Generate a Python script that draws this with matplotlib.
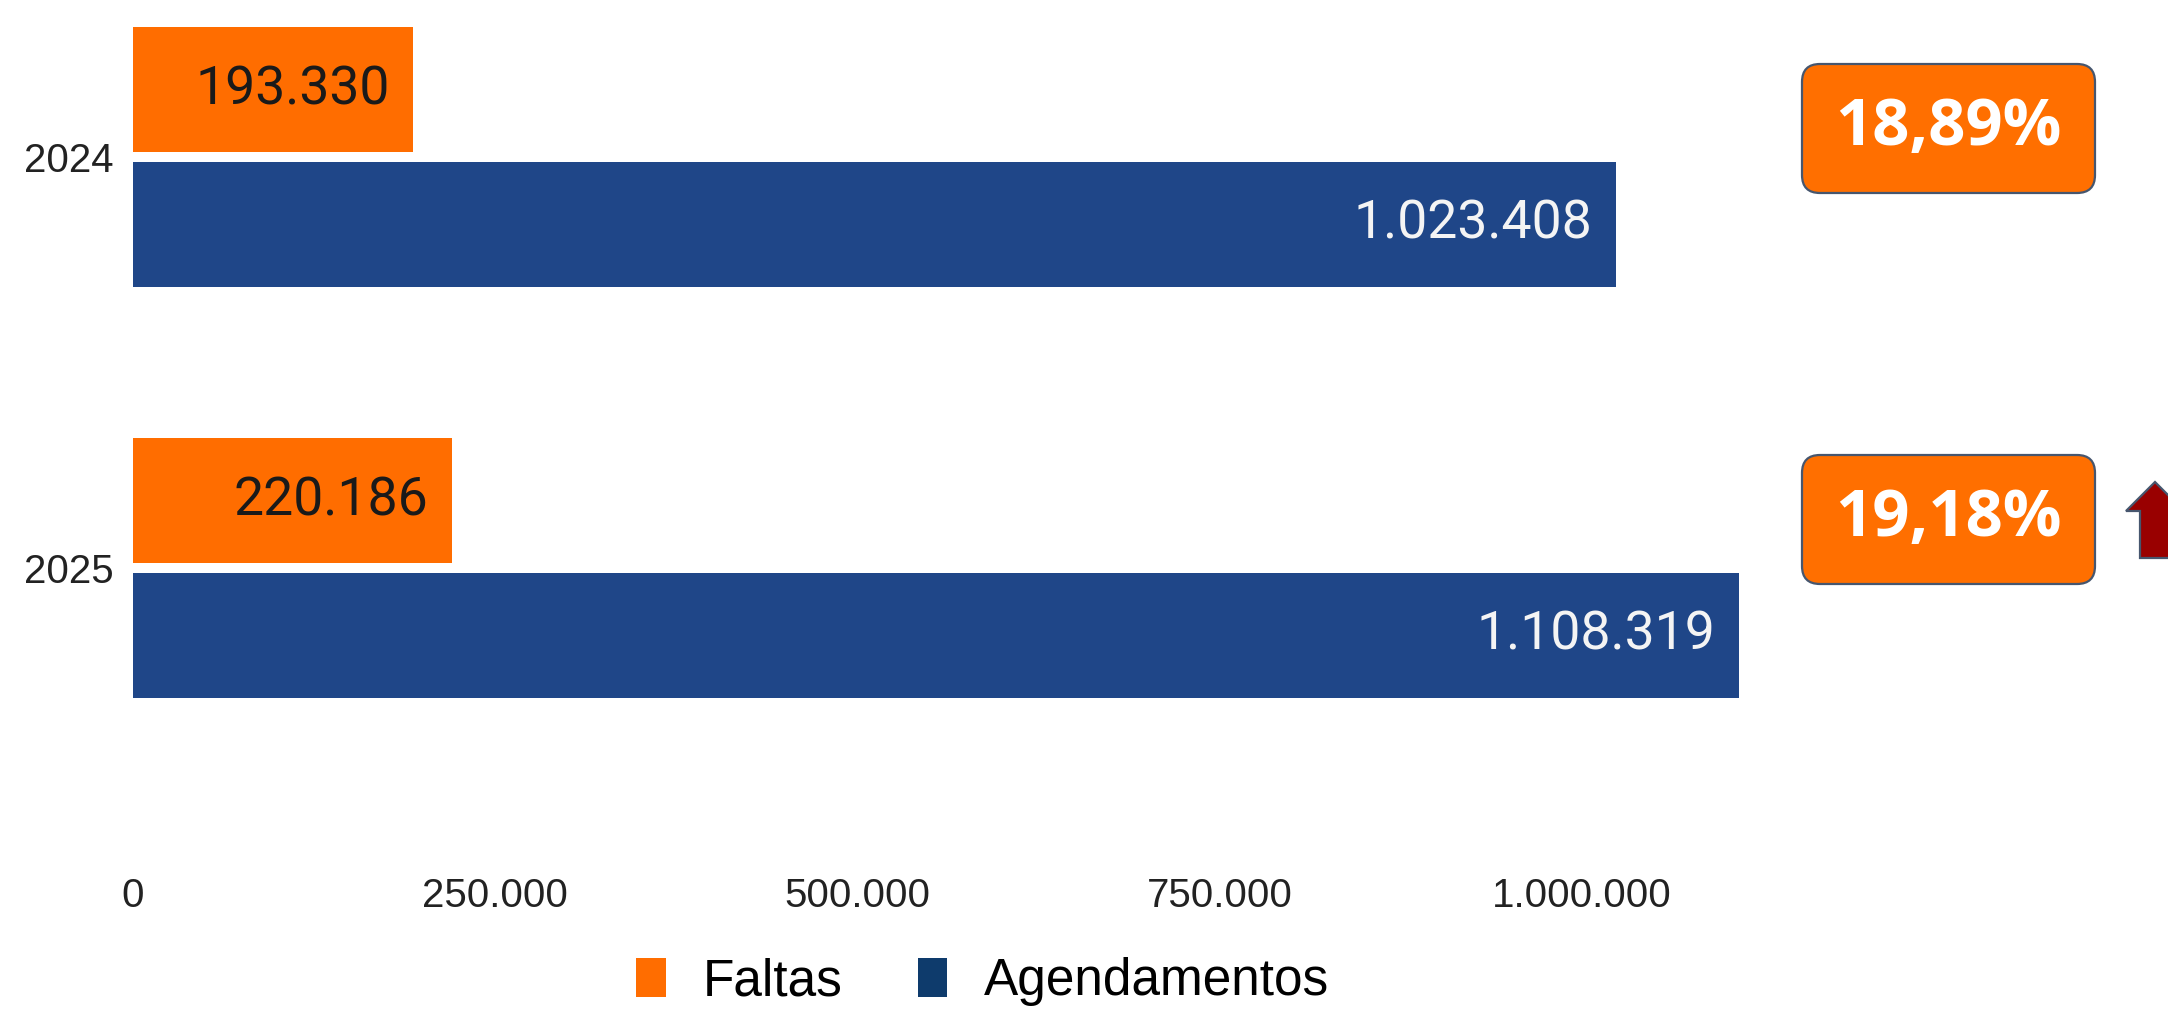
import numpy as np
import matplotlib
matplotlib.use("Agg")
import matplotlib.pyplot as plt
from matplotlib.patches import FancyBboxPatch, Polygon, Patch
from matplotlib.ticker import FuncFormatter
from matplotlib.transforms import IdentityTransform

# data
years = ["2024", "2025"]
faltas = [193330, 220186]
agendamentos = [1023408, 1108319]
pct_labels = ["18,89%", "19,18%"]
xticks = [0, 250000, 500000, 750000, 1000000]

ORANGE = "#FF6D00"
BLUE = "#1F4688"
BLUE_LEG = "#0E3B6C"
EDGE = "#46566E"

W, H = 2168, 1015


def fmt_br(v, pos=None):
    return "{:,.0f}".format(v).replace(",", ".")


fig = plt.figure(figsize=(W / 100, H / 100), dpi=100)
fig.patch.set_facecolor("white")

# axes placed in pixel terms: x=0 at 133px, 250k per 362px
ax_left = 133 / W
ax_right = (133 + 5 * 362.3) / W
ax_bottom = 1 - 860 / H
ax = fig.add_axes([ax_left, ax_bottom, ax_right - ax_left, 1 - ax_bottom])

pos = np.arange(len(years))
h = 0.304
off = 0.164

b1 = ax.barh(pos - off, faltas, height=h, color=ORANGE, label="Faltas")
b2 = ax.barh(pos + off, agendamentos, height=h, color=BLUE, label="Agendamentos")

for rect, v in zip(b1, faltas):
    ax.annotate(fmt_br(v), (rect.get_width(), rect.get_y() + rect.get_height() / 2),
                xytext=(-17, 0), textcoords="offset points", ha="right", va="center",
                fontsize=38.5, family="Roboto", color="#1a1a1a")
for rect, v in zip(b2, agendamentos):
    ax.annotate(fmt_br(v), (rect.get_width(), rect.get_y() + rect.get_height() / 2),
                xytext=(-17, 0), textcoords="offset points", ha="right", va="center",
                fontsize=38.5, family="Roboto", color="#f4f4f4")

ax.set_xlim(0, 1250000)
ax.set_ylim((860 - 157) / 411, -157 / 411)
ax.set_yticks(pos)
ax.set_yticklabels(years)
ax.set_xticks(xticks)
ax.xaxis.set_major_formatter(FuncFormatter(fmt_br))
ax.tick_params(axis="y", length=0, pad=14, labelsize=29, labelcolor="#222222")
ax.tick_params(axis="x", length=0, pad=12, labelsize=29, labelcolor="#222222")
for lab in ax.get_xticklabels() + ax.get_yticklabels():
    lab.set_family("Liberation Sans")
for s in ax.spines.values():
    s.set_visible(False)
ax.set_facecolor("none")

# legend
handles = [Patch(facecolor=ORANGE, label="Faltas"),
           Patch(facecolor=BLUE_LEG, label="Agendamentos")]
fig.legend(handles=handles, loc="center", bbox_to_anchor=(983 / W, 1 - 982 / H),
           ncol=2, frameon=False, prop={"family": "Liberation Sans", "size": 37},
           handlelength=0.58, handleheight=0.8, handletextpad=0.72,
           columnspacing=1.45, borderpad=0)

# percentage boxes (pixel coordinates, top-left origin converted)
ident = IdentityTransform()
box_tops = [64, 455]
for top, txt in zip(box_tops, pct_labels):
    bx, bw, bh = 1802, 293, 129
    y0 = H - top - bh
    fig.add_artist(FancyBboxPatch((bx, y0), bw, bh, boxstyle="round,pad=0,rounding_size=18",
                                  facecolor="#FF6F00", edgecolor=EDGE, linewidth=1.6,
                                  transform=ident))
    fig.text((bx + bw / 2) / W, (y0 + bh / 2) / H, txt, ha="center", va="center",
             fontsize=47, fontweight="bold", family="Open Sans", color="white")

# up arrow next to second box
arrow_pts = [(2155, 482), (2126, 511), (2140, 511), (2140, 558),
             (2170, 558), (2170, 511), (2184, 511)]
fig.add_artist(Polygon([(x, H - y) for x, y in arrow_pts], closed=True,
                       facecolor="#990000", edgecolor=EDGE, linewidth=1.6,
                       transform=ident))

fig.savefig("out.png", dpi=100)
